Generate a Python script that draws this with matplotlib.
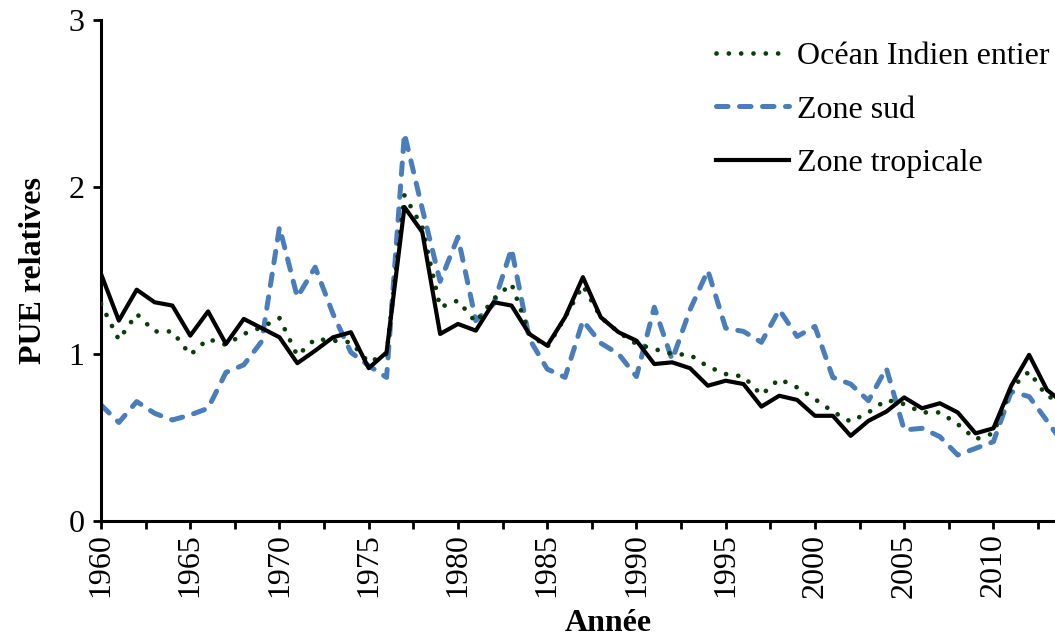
import matplotlib
matplotlib.use("Agg")
import matplotlib.pyplot as plt
import numpy as np

plt.rcParams['font.family'] = ['Liberation Serif', 'DejaVu Serif']

# years 1960 - 2014 (the last point falls just past the cropped right edge)
years = np.arange(1960, 2015)

ocean_indien = [1.30, 1.085, 1.24, 1.135, 1.135, 0.995, 1.09, 1.055, 1.12, 1.16,
                1.215, 0.99, 1.09, 1.08, 1.07, 0.95, 1.00, 1.95, 1.76, 1.28,
                1.32, 1.19, 1.33, 1.42, 1.12, 1.04, 1.22, 1.41, 1.22, 1.13,
                1.06, 1.03, 1.00, 0.995, 0.925, 0.88, 0.865, 0.755, 0.85, 0.80,
                0.73, 0.655, 0.595, 0.65, 0.725, 0.70, 0.65, 0.65, 0.58, 0.49,
                0.525, 0.795, 0.895, 0.745, 0.72]

zone_sud = [0.695, 0.59, 0.715, 0.645, 0.605, 0.635, 0.675, 0.89, 0.935, 1.075,
            1.76, 1.34, 1.52, 1.24, 1.01, 0.93, 0.86, 2.32, 1.87, 1.435,
            1.70, 1.20, 1.30, 1.63, 1.09, 0.91, 0.86, 1.20, 1.065, 1.00,
            0.865, 1.28, 0.965, 1.265, 1.50, 1.155, 1.135, 1.07, 1.265, 1.105,
            1.165, 0.86, 0.82, 0.72, 0.915, 0.545, 0.555, 0.505, 0.395, 0.435,
            0.475, 0.775, 0.745, 0.60, 0.45]

zone_tropicale = [1.48, 1.20, 1.385, 1.31, 1.29, 1.11, 1.255, 1.06, 1.21, 1.155,
                  1.10, 0.945, 1.02, 1.10, 1.13, 0.915, 1.01, 1.88, 1.73, 1.12,
                  1.18, 1.14, 1.31, 1.29, 1.12, 1.05, 1.22, 1.46, 1.22, 1.13,
                  1.08, 0.94, 0.95, 0.915, 0.81, 0.84, 0.82, 0.685, 0.75, 0.725,
                  0.63, 0.63, 0.51, 0.60, 0.655, 0.74, 0.675, 0.705, 0.65, 0.525,
                  0.555, 0.81, 0.995, 0.785, 0.70]

fig = plt.figure(figsize=(10.55, 6.4), dpi=100)
ax = fig.add_axes([101/1055, 1-521/640, (1055-101)/1055, (521-20)/640])

l_ocean, = ax.plot(years, ocean_indien, color='#0b3d0b', lw=3.4,
                   dashes=(0.01, 2.6), dash_capstyle='round', zorder=3,
                   label='Océan Indien entier')
l_sud, = ax.plot(years, zone_sud, color='#4a7ebb', lw=3.6,
                 dashes=(2.3, 2.3), dash_capstyle='round', zorder=2,
                 label='Zone sud')
l_trop, = ax.plot(years, zone_tropicale, color='black', lw=3.0,
                  zorder=4, label='Zone tropicale')

ax.set_xlim(1960, 2013.45)
ax.set_ylim(0, 3)
ax.set_yticks([0, 1, 2, 3])
ax.set_xticks(np.arange(1960, 2015, 5))
ax.set_xticks(np.arange(1962.5, 2015, 5), minor=True)

for side in ['top', 'right']:
    ax.spines[side].set_visible(False)
for side in ['left', 'bottom']:
    ax.spines[side].set_linewidth(2.2)

ax.tick_params(axis='both', which='both', direction='out', length=6, width=2.0,
               labelsize=23)
ax.tick_params(axis='y', pad=6)
ax.tick_params(axis='x', which='major', labelrotation=90, pad=3)

ax.set_xlabel('Année', fontsize=23, fontweight='bold')
ax.xaxis.set_label_coords((608-101)/954, -0.176)
ax.set_ylabel('PUE relatives', fontsize=23, fontweight='bold', labelpad=15)

ax.legend(handles=[l_ocean, l_sud, l_trop], loc='upper left',
          bbox_to_anchor=(716/1055, 1-42/640), bbox_transform=fig.transFigure,
          frameon=False, fontsize=23, handlelength=2.3, handletextpad=0.25,
          labelspacing=0.75, borderpad=0, borderaxespad=0)

fig.savefig('out.png', dpi=100)
